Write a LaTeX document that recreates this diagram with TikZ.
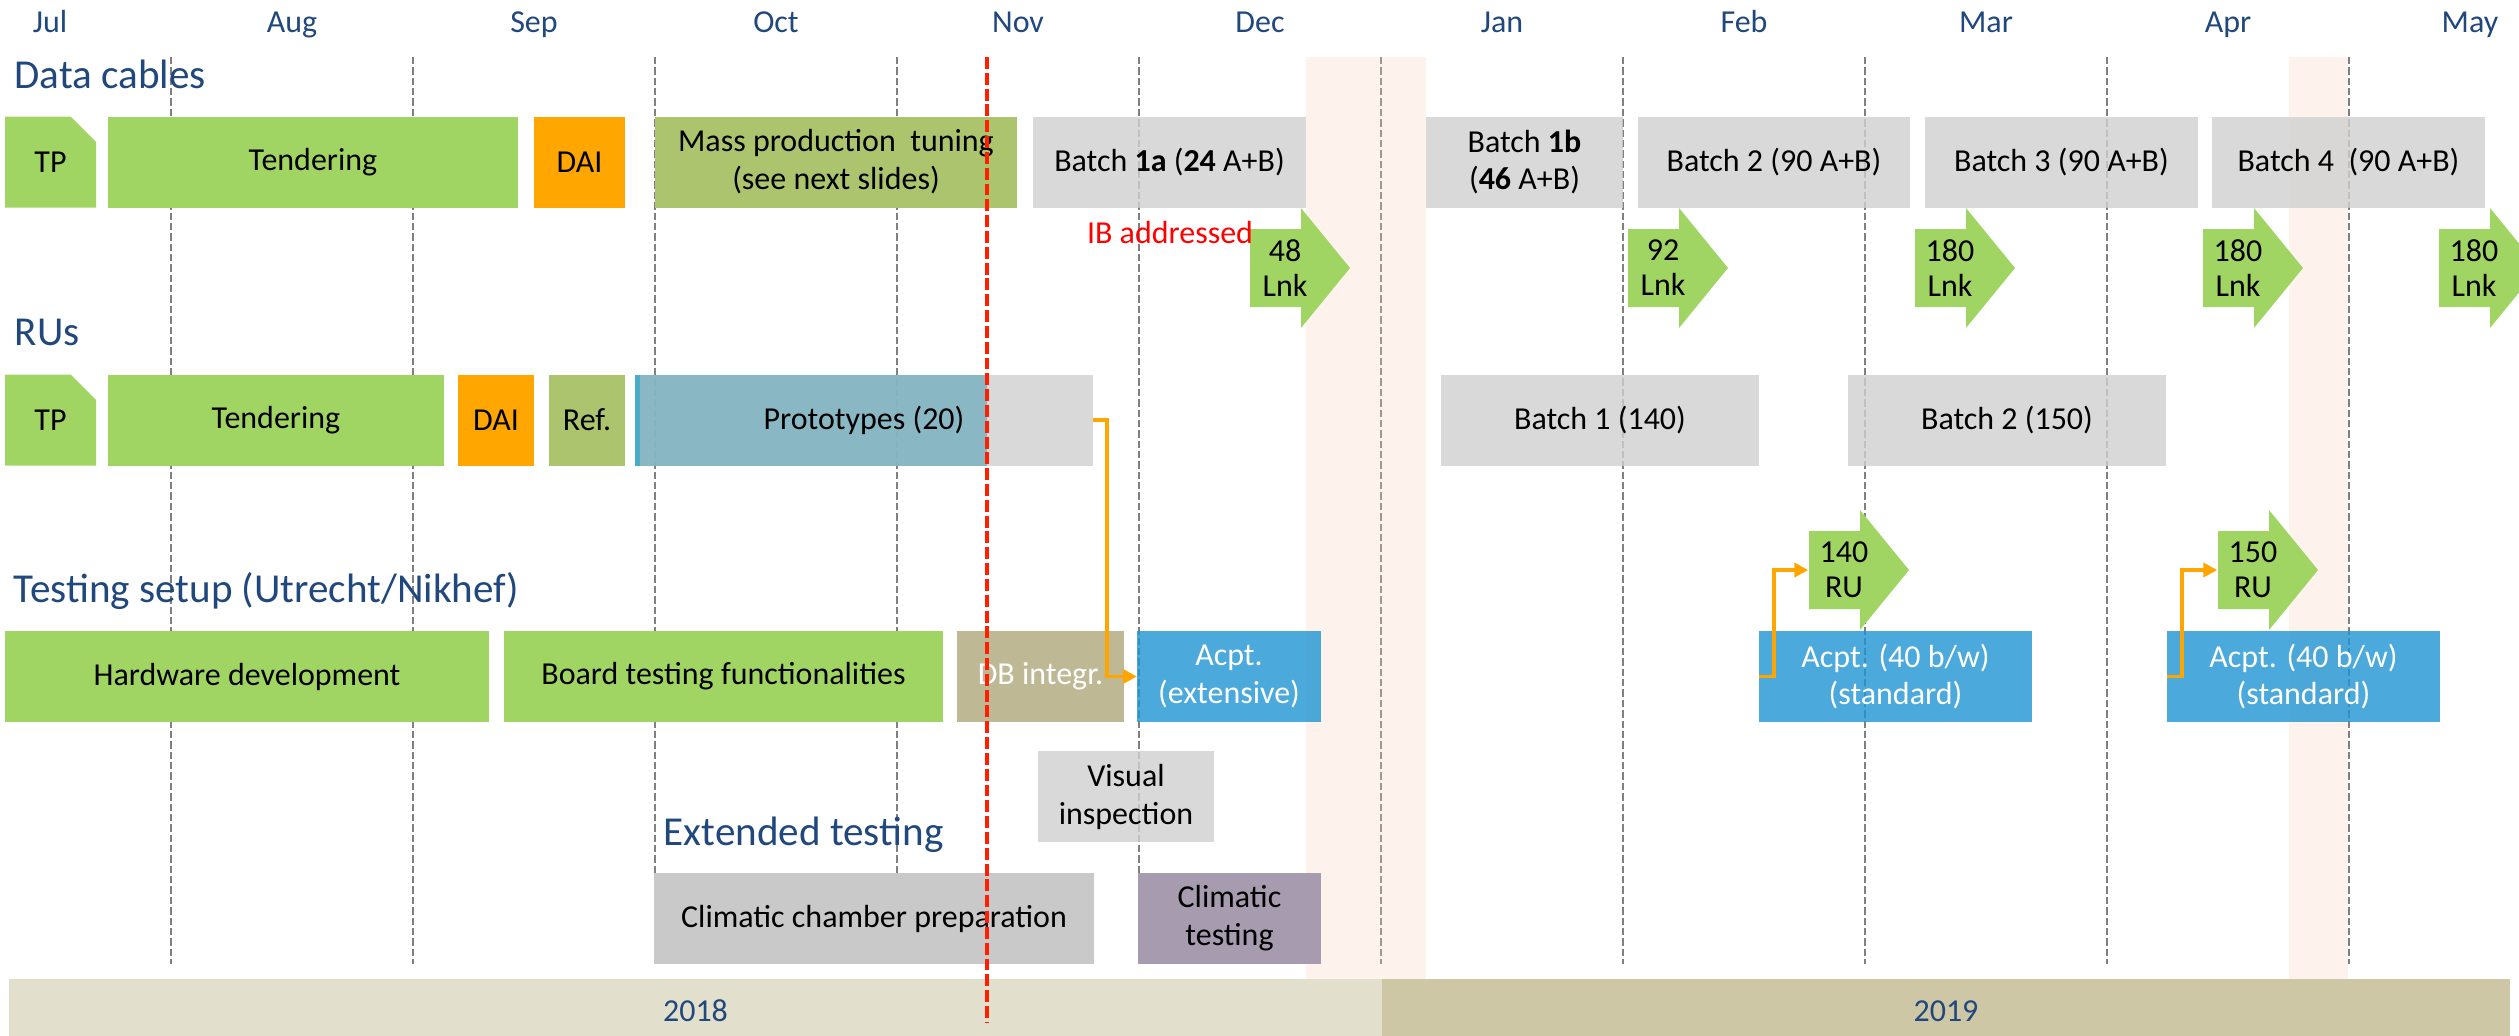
\documentclass[tikz,border=0pt]{standalone}
\usepackage{fontspec}
\setmainfont{Carlito}
\usetikzlibrary{arrows.meta,calc,shapes.misc}
\definecolor{tlblue}{RGB}{33,72,125}
\definecolor{tgrn}{RGB}{161,213,99}
\definecolor{torg}{RGB}{255,167,0}
\definecolor{tolv}{RGB}{173,196,110}
\definecolor{tgray}{RGB}{208,208,208}
\definecolor{tgrayD}{RGB}{201,201,201}
\definecolor{tblue}{RGB}{30,148,210}
\definecolor{tkhk}{RGB}{191,184,149}
\definecolor{tpur}{RGB}{166,155,175}
\definecolor{tproto}{RGB}{117,175,191}
\definecolor{tstrip}{RGB}{75,172,198}
\definecolor{tconn}{RGB}{255,165,0}
\definecolor{tpeach}{RGB}{250,212,186}
\definecolor{tyrA}{RGB}{226,223,205}
\definecolor{tyrB}{RGB}{206,199,165}
\definecolor{tdash}{RGB}{128,128,128}
\definecolor{tred}{RGB}{255,30,0}
\newcommand{\tfont}{\fontsize{9.1}{10.8}\selectfont}
\newcommand{\afont}{\fontsize{9.1}{10}\selectfont}
\newcommand{\mfont}{\fontsize{9.1}{11}\selectfont}
\newcommand{\hfont}{\fontsize{11.7}{14}\selectfont}
\tikzset{
  tbox/.style={inner sep=0pt,outer sep=0pt,minimum height=0.91cm,align=center,font=\tfont},
  tgreen/.style={tbox,fill=tgrn},
  torange/.style={tbox,fill=torg},
  tolive/.style={tbox,fill=tolv},
  tkhaki/.style={tbox,fill=tkhk,text=white},
  tgrayb/.style={tbox,fill=tgray,fill opacity=0.8,text opacity=1},
  tblueb/.style={tbox,fill=tblue,fill opacity=0.8,text opacity=1,text=white},
  tprep/.style={tbox,fill=tgrayD},
  tclim/.style={tbox,fill=tpur},
  tsnip/.style={tgreen,chamfered rectangle,chamfered rectangle corners=north east,
    chamfered rectangle xsep=0.15cm,chamfered rectangle ysep=0.15cm},
  lnktxt/.style={inner sep=0pt,minimum width=0.7cm,minimum height=0.78cm,align=center,font=\afont},
  monlab/.style={anchor=base,inner sep=0pt,font=\mfont,text=tlblue},
  hdr/.style={anchor=base west,inner sep=0pt,font=\hfont,text=tlblue},
  ibnote/.style={anchor=base,inner sep=0pt,font=\tfont,text=red},
  mgrid/.style={tdash,line width=0.75pt,dash pattern=on 2.1pt off 0.85pt},
  today/.style={tred,line width=1.1pt,dash pattern=on 3.4pt off 1.1pt},
  feed/.style={tconn,line width=1pt,-{Triangle[length=4pt,width=4pt]}},
  hol/.style={fill=tpeach,fill opacity=0.28},
  yrbar/.style={inner sep=0pt,outer sep=0pt,minimum height=0.57cm,text height=0.28cm,text depth=0pt,font=\mfont,text=tlblue},
}
\newcommand{\lnkarrow}[4]{% #1 = name, #2 = tail x, #3 = mid y, #4 = label
  \fill[tgrn] (#2,#3+0.39) -- ++(0.51,0) -- ++(0,0.21) -- ++(0.49,-0.6) -- ++(-0.49,-0.6) -- ++(0,0.21) -- ++(-0.51,0) -- cycle;
  \node[lnktxt] (#1) at (#2+0.35,#3) {#4};}

\begin{document}
\begin{tikzpicture}
\useasboundingbox (0,0) rectangle (25.19,-10.36);
\clip (0,0) rectangle (25.19,-10.36);
% ---- months and month grid
\foreach \M [count=\k from 0] in {Jul,Aug,Sep,Oct,Nov,Dec,Jan,Feb,Mar,Apr,May}
  \node[monlab] (mon\k) at (0.50+2.42*\k,-0.32) {\M};
\foreach \X in {1.71,4.13,6.55,8.97,11.39,13.81,16.23,18.65,21.07,23.49}
  \draw[mgrid] (\X,-0.57) -- (\X,-9.64);
% ---- holiday bands
\fill[hol] (13.06,-0.57) rectangle (14.26,-9.79);
\fill[hol] (22.89,-0.57) rectangle (23.48,-9.79);
% ---- data cables
\node[tsnip,minimum width=0.91cm,minimum height=0.91cm] (dcTP) at (0.505,-1.62) {TP};
\node[tgreen,minimum width=4.10cm] (dcTend) at (3.13,-1.62) {Tendering};
\node[torange,minimum width=0.91cm] (dcDAI) at (5.795,-1.62) {DAI};
\node[tolive,minimum width=3.62cm] (dcMass) at (8.36,-1.62) {Mass production\ \ tuning\\(see next slides)};
\node[tgrayb,minimum width=2.73cm] (dcB1a) at (11.695,-1.62) {Batch \textbf{1a} (\textbf{24} A+B)};
\node[tgrayb,minimum width=1.97cm] (dcB1b) at (15.245,-1.62) {Batch \textbf{1b}\\(\textbf{46} A+B)};
\node[tgrayb,minimum width=2.72cm] (dcB2) at (17.74,-1.62) {Batch 2 (90 A+B)};
\node[tgrayb,minimum width=2.73cm] (dcB3) at (20.615,-1.62) {Batch 3 (90 A+B)};
\node[tgrayb,minimum width=2.73cm] (dcB4) at (23.485,-1.62) {Batch 4\ \ (90 A+B)};
% ---- RUs
\node[tsnip,minimum width=0.91cm,minimum height=0.91cm] (ruTP) at (0.505,-4.20) {TP};
\node[tgreen,minimum width=3.36cm] (ruTend) at (2.76,-4.20) {Tendering};
\node[torange,minimum width=0.76cm] (ruDAI) at (4.96,-4.20) {DAI};
\node[tolive,minimum width=0.76cm] (ruRef) at (5.87,-4.20) {Ref.};
\node[tgrayb,minimum width=4.58cm,path picture={
    \fill[tproto,fill opacity=0.8] (path picture bounding box.north west) rectangle ([xshift=3.52cm]path picture bounding box.south west);
    \fill[tstrip,fill opacity=1] (path picture bounding box.north west) rectangle ([xshift=0.05cm]path picture bounding box.south west);}]
  (ruProto) at (8.64,-4.20) {Prototypes (20)};
\node[tgrayb,minimum width=3.18cm] (ruB1) at (16.00,-4.20) {Batch 1 (140)};
\node[tgrayb,minimum width=3.18cm] (ruB2) at (20.07,-4.20) {Batch 2 (150)};
% ---- testing setup
\node[tgreen,minimum width=4.84cm] (tsHW) at (2.47,-6.765) {Hardware development};
\node[tgreen,minimum width=4.39cm] (tsBoard) at (7.235,-6.765) {Board testing functionalities};
\node[tkhaki,minimum width=1.67cm] (tsDB) at (10.405,-6.765) {DB integr.};
\node[tblueb,minimum width=1.84cm] (tsAcptX) at (12.29,-6.765) {Acpt.\\(extensive)};
\node[tblueb,minimum width=2.73cm] (tsAcpt1) at (18.955,-6.765) {Acpt. (40 b/w)\\(standard)};
\node[tblueb,minimum width=2.73cm] (tsAcpt2) at (23.035,-6.765) {Acpt. (40 b/w)\\(standard)};
% ---- extended testing
\node[tgrayb,minimum width=1.76cm] (etVis) at (11.26,-7.965) {Visual\\inspection};
\node[tprep,minimum width=4.40cm] (etPrep) at (8.74,-9.185) {Climatic chamber preparation};
\node[tclim,minimum width=1.83cm] (etClim) at (12.295,-9.185) {Climatic\\testing};
% ---- deliveries
\lnkarrow{lnk48}{12.50}{-2.68}{48\\Lnk}
\lnkarrow{lnk92}{16.28}{-2.68}{92\\Lnk}
\lnkarrow{lnk180a}{19.15}{-2.68}{180\\Lnk}
\lnkarrow{lnk180b}{22.03}{-2.68}{180\\Lnk}
\lnkarrow{lnk180c}{24.39}{-2.68}{180\\Lnk}
\lnkarrow{ru140}{18.09}{-5.70}{140\\RU}
\lnkarrow{ru150}{22.18}{-5.70}{150\\RU}
% ---- hand-overs
\draw[feed] (ruProto.east) -- ++(0.14,0) |- (tsAcptX.west);
\draw[feed] (tsAcpt1.west) -- ++(0.15,0) |- (ru140.west);
\draw[feed] (tsAcpt2.west) -- ++(0.15,0) |- (ru150.west);
% ---- section headings
\node[hdr] (hdData) at (0.14,-0.88) {Data cables};
\node[hdr] (hdRU) at (0.14,-3.45) {RUs};
\node[hdr] (hdTest) at (0.13,-6.02) {Testing setup (Utrecht/Nikhef)};
\node[hdr] (hdExt) at (6.63,-8.45) {Extended testing};
\node[ibnote] (ibNote) at (11.70,-2.43) {IB addressed};
% ---- years
\node[yrbar,fill=tyrA,minimum width=13.73cm] (yr2018) at (6.955,-10.075) {2018};
\node[yrbar,fill=tyrB,minimum width=11.28cm] (yr2019) at (19.46,-10.075) {2019};
% ---- today
\draw[today] (9.87,-0.57) -- (9.87,-10.23);
\end{tikzpicture}
\end{document}
